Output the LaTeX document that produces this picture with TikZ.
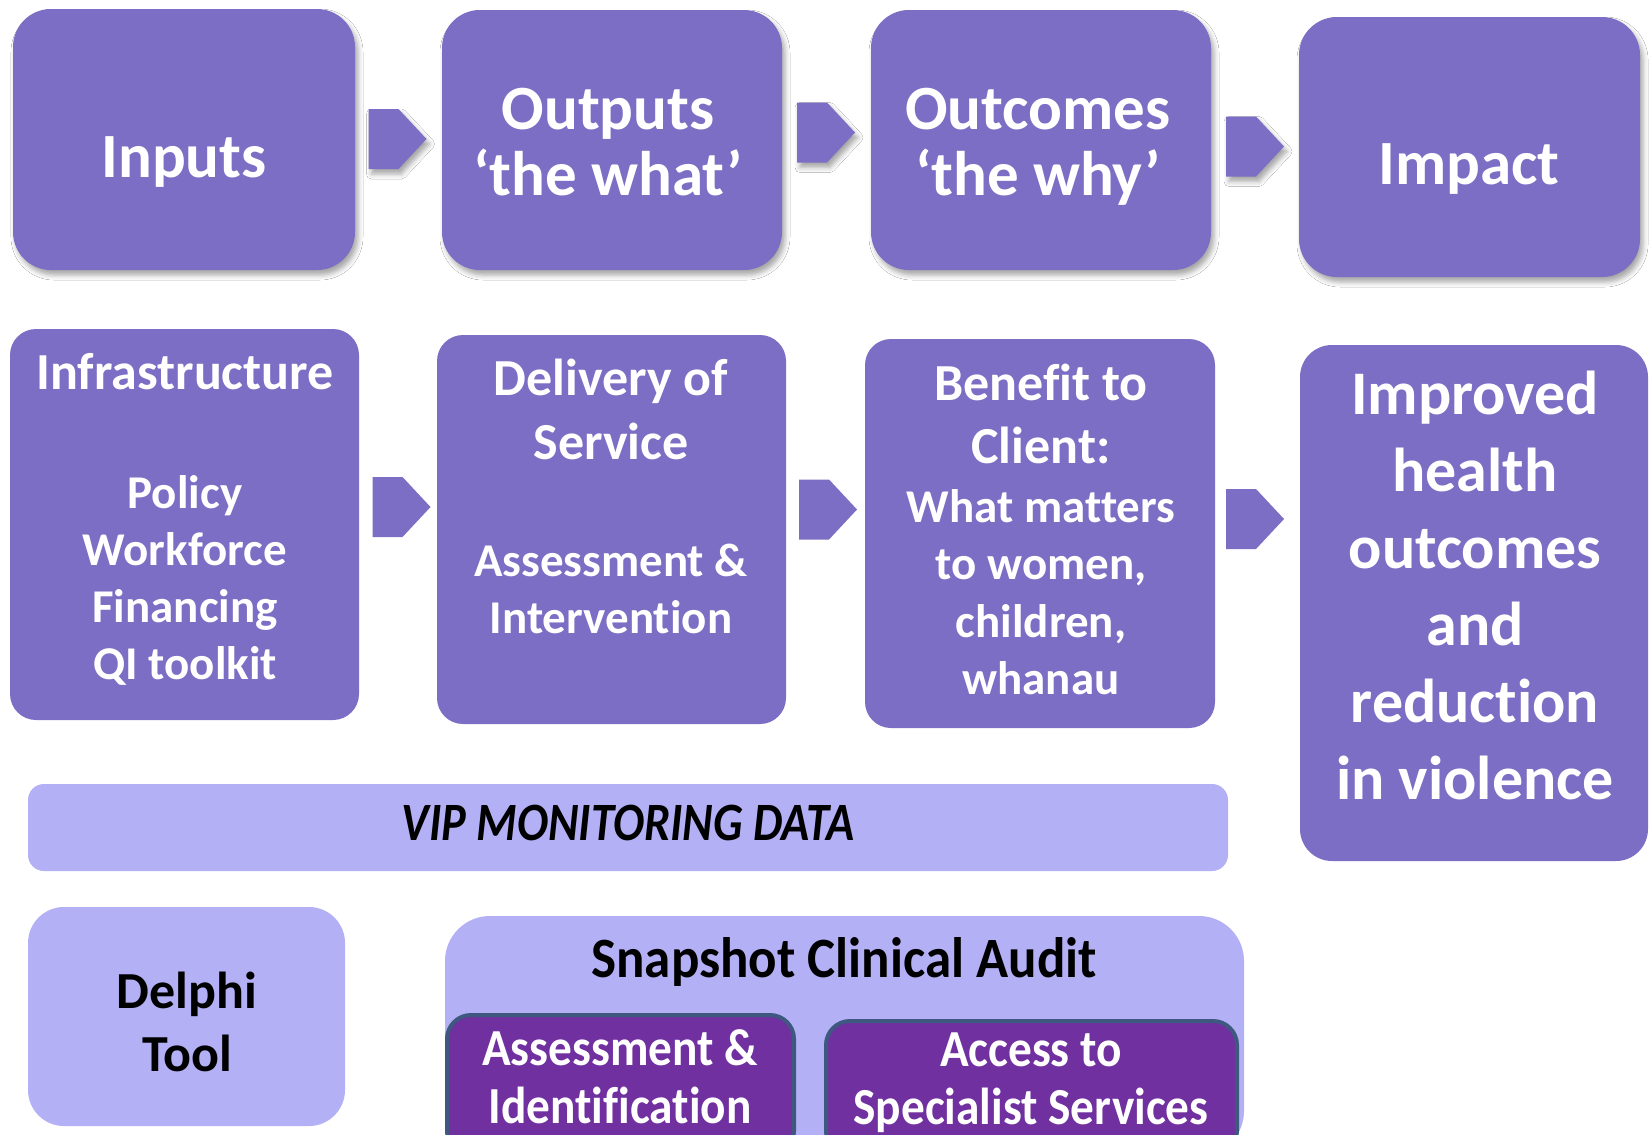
\documentclass[tikz,border=0pt]{standalone}
\usepackage{fontspec}
\setmainfont[Ligatures=NoCommon]{Carlito}
\usetikzlibrary{shadows.blur}
\definecolor{boxpurple}{RGB}{123,110,196}
\definecolor{lightpurple}{RGB}{180,176,245}
\definecolor{darkpurple}{RGB}{112,48,160}
\definecolor{edgeblue}{RGB}{62,88,128}
\newcommand\textlines[6]{%
  \foreach \t [count=\i] in {#6} {%
    \node[#5] (#1-\i) at (#2,{#3+(\i-1)*#4}) {\t};}}
\begin{document}
\begin{tikzpicture}[x=1pt,y=-1pt,
  sh/.style={blur shadow={shadow xshift=3pt,shadow yshift=-5pt,shadow blur radius=5pt,shadow opacity=35}},
  topbox/.style={fill=boxpurple,rounded corners=38pt,inner sep=0pt,sh},
  midbox/.style={fill=boxpurple,rounded corners=26pt,inner sep=0pt},
  lightbox/.style={fill=lightpurple,inner sep=0pt},
  darkbox/.style={fill=darkpurple,draw=edgeblue,line width=4pt,rounded corners=24pt,inner sep=0pt},
  wt/.style={anchor=base,inner sep=0pt,text=white},
  bt/.style={anchor=base,inner sep=0pt,text=black},
  chev/.pic={\fill[boxpurple] (-29,-30) -- (1,-30) -- (29,0) -- (1,30) -- (-29,30) -- cycle;},
  chevs/.pic={\fill[boxpurple,sh] (-29,-30) -- (1,-30) -- (29,0) -- (1,30) -- (-29,30) -- cycle;}
]
\useasboundingbox (0,0) rectangle (1650,1135);
\fill[white] (0,0) rectangle (1650,1135);
\clip (0,0) rectangle (1650,1135);

% top row
\node[topbox,minimum width=342pt,minimum height=261pt] (inputs) at (184,139.5) {};
\node[topbox,minimum width=340pt,minimum height=260pt] (outputs) at (612,140) {};
\node[topbox,minimum width=340pt,minimum height=260pt] (outcomes) at (1041,140) {};
\node[topbox,minimum width=341pt,minimum height=260pt] (impact) at (1469.5,147) {};
\pic at (397.5,139) {chevs};
\pic at (826,132.5) {chevs};
\pic at (1255,146.5) {chevs};

\node[wt,font=\bfseries\fontsize{63}{70}\selectfont] (inputs-t) at (184,177) {Inputs};
\textlines{outputs-t}{608}{129}{66}{wt,font=\bfseries\fontsize{63}{70}\selectfont}{Outputs,‘the what’}
\textlines{outcomes-t}{1038}{129}{66}{wt,font=\bfseries\fontsize{63}{70}\selectfont}{Outcomes,‘the why’}
\node[wt,font=\bfseries\fontsize{63}{70}\selectfont] (impact-t) at (1469,184) {Impact};

% middle row
\node[midbox,minimum width=349pt,minimum height=391pt] (infra) at (184.5,524.5) {};
\node[midbox,minimum width=349pt,minimum height=389pt] (deliv) at (611.5,529.5) {};
\node[midbox,minimum width=350pt,minimum height=389pt] (benef) at (1040,533.5) {};
\node[midbox,rounded corners=32pt,minimum width=348pt,minimum height=516pt] (improved) at (1474,603) {};
\pic at (401.5,507) {chev};
\pic at (828,509.5) {chev};
\pic at (1255,519) {chev};

\node[wt,font=\bfseries\fontsize{52}{60}\selectfont] (infra-t) at (185,389) {Infrastructure};
\textlines{infra-l}{185}{508}{57}{wt,font=\bfseries\fontsize{47}{55}\selectfont}{Policy,Workforce,Financing,QI toolkit}
\textlines{deliv-t}{611}{395}{64}{wt,font=\bfseries\fontsize{52}{60}\selectfont}{Delivery of,Service}
\textlines{deliv-l}{611}{576}{57}{wt,font=\bfseries\fontsize{47}{55}\selectfont}{Assessment \&,Intervention}
\textlines{benef-t}{1041}{400}{63}{wt,font=\bfseries\fontsize{52}{60}\selectfont}{Benefit to,Client:}
\textlines{benef-l}{1041}{522}{57.5}{wt,font=\bfseries\fontsize{47}{55}\selectfont}{What matters,{to women,},{children,},whanau}
\textlines{improved-t}{1475}{414}{77}{wt,font=\bfseries\fontsize{62}{70}\selectfont}{Improved,health,outcomes,and,reduction,in violence}

% monitoring bar
\node[lightbox,rounded corners=16pt,minimum width=1200pt,minimum height=87pt] (vip) at (628,827.5) {};
\node[bt,font=\bfseries\itshape\fontsize{54}{60}\selectfont] (vip-t) at (628,840) {\scalebox{0.86}[1]{VIP MONITORING DATA}};

% bottom row
\node[lightbox,rounded corners=36pt,minimum width=317pt,minimum height=219pt] (delphi) at (186.5,1016.5) {};
\textlines{delphi-t}{187}{1008}{63}{bt,font=\bfseries\fontsize{52}{60}\selectfont}{Delphi,Tool}

\node[lightbox,rounded corners=45pt,minimum width=799pt,minimum height=240pt] (snap) at (844.5,1036) {};
\node[bt,font=\bfseries\fontsize{57}{62}\selectfont] (snap-t) at (844,977) {\scalebox{0.93}[1]{Snapshot Clinical Audit}};

\node[darkbox,minimum width=347pt,minimum height=140pt] (assess) at (620.5,1085) {};
\node[darkbox,minimum width=411pt,minimum height=134pt] (access) at (1031.5,1088) {};
\textlines{assess-t}{620}{1065}{58}{wt,font=\bfseries\fontsize{52}{58}\selectfont}{\scalebox{0.91}[1]{Assessment \&},\scalebox{0.91}[1]{Identification}}
\textlines{access-t}{1031}{1066}{58}{wt,font=\bfseries\fontsize{52}{58}\selectfont}{\scalebox{0.91}[1]{Access to},\scalebox{0.91}[1]{Specialist Services}}
\end{tikzpicture}
\end{document}
